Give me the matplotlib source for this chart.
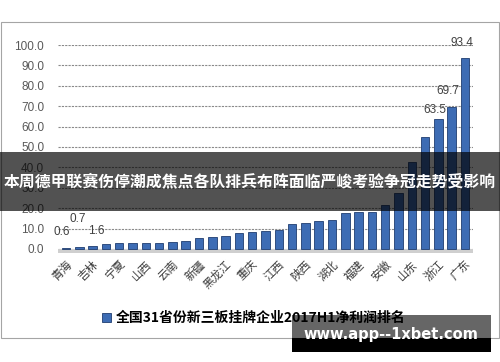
import matplotlib
matplotlib.use("Agg")
import matplotlib.pyplot as plt
from matplotlib.patches import Rectangle
from matplotlib.font_manager import FontProperties
import numpy as np

# ---- data ----
values = [0.6, 0.7, 1.6, 2.6, 2.8, 2.9, 2.9, 3.1, 3.3, 3.7,
          5.6, 6.0, 6.3, 7.9, 8.2, 8.6, 9.4, 12.0, 12.9, 13.8,
          14.1, 17.4, 17.9, 18.2, 21.5, 27.5, 42.8, 55.0, 63.5, 69.7, 93.4]
tick_labels = ["青海", "吉林", "宁夏", "山西", "云南", "新疆", "黑龙江", "重庆",
               "江西", "陕西", "湖北", "福建", "安徽", "山东", "浙江", "广东"]
labelled_bars = [0, 1, 2, 28, 29, 30]
legend_label = "全国31省份新三板挂牌企业2017H1净利润排名"
banner_text = "本周德甲联赛伤停潮成焦点各队排兵布阵面临严峻考验争冠走势受影响"
watermark = "www.app--1xbet.com"
yticks = [0, 10, 20, 30, 40, 50, 60, 70, 80, 90, 100]

# label offsets in points (style only)
label_offsets = {0: (-3, 7), 1: (-1, 16.5), 2: (3, 6.5), 28: (-2.5, 2.5), 29: (-2.5, 7), 30: (-2.5, 6.5)}

W, H = 500, 362
fig = plt.figure(figsize=(W / 100, H / 100), dpi=100)
fig.patch.set_facecolor("white")

ax = fig.add_axes([58 / W, (H - 253) / H, (473 - 58) / W, (253 - 45) / H])
x = np.arange(len(values))
bars = ax.bar(x, values, width=0.64, color="#3d6cb4", edgecolor="#1f3d70",
              linewidth=0.6, zorder=3)
ax.set_xlim(-0.6, len(values) - 0.4)
ax.set_ylim(-2, 100)
ax.axhspan(-2, 0, xmin=0.0, xmax=1.0, color="#cfcfcf", zorder=2, lw=0)

ax.set_yticks(yticks)
ax.set_yticklabels([f"{v:.1f}" for v in yticks], family=["Liberation Sans"],
                   fontsize=8.5, color="#595959")
ax.set_xticks(x[::2])
ax.set_xticklabels(tick_labels, family=["Noto Sans CJK SC"], fontsize=8.2,
                   color="#3a3a3a", rotation=45, ha="right", va="top",
                   rotation_mode="anchor")
ax.tick_params(axis="y", length=0, pad=10)
ax.tick_params(axis="x", length=0, pad=4)
for s in ax.spines.values():
    s.set_visible(False)
ax.grid(axis="y", color="#8a8a8a", linestyle=(0, (2, 1)), linewidth=0.8, zorder=1)
ax.set_facecolor("none")

for i in labelled_bars:
    dx, dy = label_offsets[i]
    ax.annotate(f"{values[i]}", (x[i], values[i]), xytext=(dx, dy),
                textcoords="offset points", ha="center", va="bottom",
                fontsize=8.5, color="#404040", family=["Liberation Sans"], zorder=4)

# outer frame
fig.add_artist(Rectangle((1 / W, (H - 338) / H), 498 / W, 316 / H,
                         transform=fig.transFigure, fill=False,
                         edgecolor="#a5a5a5", linewidth=0.8, zorder=1))

# legend
fig.legend(handles=[bars], labels=[legend_label], loc="center",
           bbox_to_anchor=(254 / W, 1 - 318 / H), frameon=False,
           prop=FontProperties(family=["Noto Sans CJK SC"], weight="bold", size=10),
           handlelength=0.6, handleheight=0.6, handletextpad=0.4)

# banner overlay
fig.add_artist(Rectangle((0, (H - 211) / H), 1, 59 / H, transform=fig.transFigure,
                         facecolor="black", alpha=0.68, edgecolor="none", zorder=10))
fig.text(0.5, 1 - 181.5 / H, banner_text, ha="center", va="center", color="white",
         fontsize=11.4, fontweight="bold", family=["Noto Sans CJK SC"], zorder=11)

# watermark
fig.add_artist(Rectangle((292 / W, (H - 352) / H), 199 / W, 37 / H,
                         transform=fig.transFigure, facecolor="black", alpha=0.6,
                         edgecolor="none", zorder=10))
fig.add_artist(Rectangle((292 / W, (H - 352) / H), 199 / W, 14 / H,
                         transform=fig.transFigure, facecolor="black", alpha=1.0,
                         edgecolor="none", zorder=10))
fig.text(391 / W, 1 - 334 / H, watermark, ha="center", va="center", color="white",
         fontsize=10.5, fontweight="bold", family=["DejaVu Sans"], zorder=11)

fig.savefig("out.png", dpi=100)
